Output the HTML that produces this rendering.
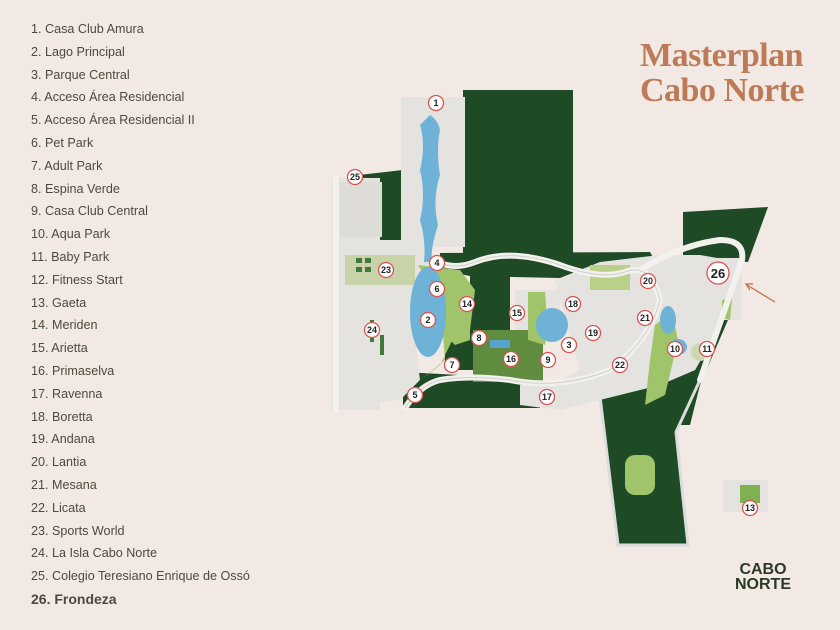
<!DOCTYPE html>
<html><head><meta charset="utf-8"><style>
html,body{margin:0;padding:0;background:#f2e9e4;}
body{width:840px;height:630px;position:relative;overflow:hidden;font-family:"Liberation Sans",sans-serif;}
.list{position:absolute;left:31px;top:18px;color:#4b4a3c;font-size:12.6px;line-height:22.8px;}
.list div{white-space:nowrap}
.title{position:absolute;left:640px;top:38px;color:#bd7a56;font-family:"Liberation Serif",serif;font-weight:bold;font-size:34px;line-height:35px;letter-spacing:-0.5px;}
.logo{position:absolute;left:732px;top:562px;color:#2a3a24;font-weight:bold;font-size:16px;line-height:15px;text-align:center;width:62px;}
svg{position:absolute;left:0;top:0}
</style></head><body>
<div class="list">
<div>1. Casa Club Amura</div><div>2. Lago Principal</div><div>3. Parque Central</div><div>4. Acceso Área Residencial</div><div>5. Acceso Área Residencial II</div><div>6. Pet Park</div><div>7. Adult Park</div><div>8. Espina Verde</div><div>9. Casa Club Central</div><div>10. Aqua Park</div><div>11. Baby Park</div><div>12. Fitness Start</div><div>13. Gaeta</div><div>14. Meriden</div><div>15. Arietta</div><div>16. Primaselva</div><div>17. Ravenna</div><div>18. Boretta</div><div>19. Andana</div><div>20. Lantia</div><div>21. Mesana</div><div>22. Licata</div><div>23. Sports World</div><div>24. La Isla Cabo Norte</div><div>25. Colegio Teresiano Enrique de Ossó</div><div style="font-weight:bold;font-size:14px">26. Frondeza</div>
</div>
<div class="title">Masterplan<br>Cabo Norte</div>
<div class="logo">CABO<br>NORTE</div>
<svg width="840" height="630" viewBox="0 0 840 630">
<g fill="#1f4a26">
<rect x="463" y="90" width="110" height="170"/>
<polygon points="350,176 420,168 430,168 430,245 350,245"/>
<polygon points="440,253 650,252 660,270 560,278 470,276 440,270"/>
<rect x="470" y="276" width="40" height="58"/>
<rect x="445" y="320" width="30" height="50"/>
<polygon points="403,372 515,378 540,385 540,408 403,408"/>
<polygon points="683,212 768,207 748,262 683,258"/>
<polygon points="718,330 740,292 700,385 690,425 640,425 660,385 695,370"/>
<polygon points="598,390 697,385 676,432 688,545 618,545"/>
</g>
<polyline points="598,380 618,545 688,545 676,432 700,380" fill="none" stroke="#dcdcdc" stroke-width="3"/>
<g fill="#e4e3e0">
<rect x="401" y="97" width="64" height="150"/>
<rect x="332" y="178" width="48" height="232"/>
<polygon points="338,240 420,240 430,270 410,300 420,380 400,400 338,405"/>
<rect x="340" y="182" width="42" height="55" fill="#dedcd6"/>
<polygon points="555,280 600,262 660,255 700,255 740,262 718,330 695,370 660,385 600,400 560,410 520,405 520,385 560,380 580,370"/>
<rect x="515" y="290" width="45" height="45"/>
<rect x="723" y="480" width="45" height="32"/>
<rect x="670" y="258" width="72" height="62"/>
</g>
<g fill="#9fc46a">
<polygon points="418,265 460,270 475,290 470,330 455,335 440,365 420,380 445,360 440,300"/>
<polygon points="440,290 470,290 470,340 455,345 440,330"/>
<rect x="473" y="330" width="70" height="52" fill="#5f8c3e"/>
<polygon points="528,292 545,292 548,330 545,345 528,340"/>
<polygon points="655,325 672,312 678,340 665,395 645,405 650,360"/>
<rect x="345" y="255" width="70" height="30" fill="#c8d3a9"/>
<rect x="740" y="485" width="20" height="18" fill="#7fb150"/>
<rect x="625" y="455" width="30" height="40" rx="10" fill="#9fc46a"/>
<rect x="590" y="265" width="40" height="25" fill="#b8d088"/>
<polygon points="722,300 732,298 730,320 722,318" fill="#9fc46a"/>
<ellipse cx="700" cy="352" rx="9" ry="9" fill="#cfd8b0"/>
</g>
<g fill="#6fb2d8">
<path d="M430,115 Q438,120 440,130 Q436,150 440,175 Q432,200 438,225 Q430,250 432,262 L424,262 Q426,240 420,220 Q426,195 420,170 Q426,145 420,125 Z"/>
<ellipse cx="428" cy="312" rx="18" ry="45"/>
<ellipse cx="552" cy="325" rx="16" ry="17"/>
<ellipse cx="668" cy="320" rx="8" ry="14"/>
<ellipse cx="678" cy="347" rx="9" ry="8"/>
<rect x="490" y="340" width="20" height="8" fill="#58a3cc"/>
</g>
<g fill="none" stroke="#f2f1ee" stroke-width="6" stroke-linecap="round">
<path d="M438,262 Q455,270 475,262 Q510,248 560,265 Q600,280 625,272 Q650,262 660,300 Q650,340 610,370 Q560,390 510,380 Q470,375 440,380 Q420,385 405,408"/>
<path d="M640,270 Q680,245 720,240 Q745,240 742,260 L700,380"/>
<path d="M336,178 L336,410"/>
</g>
<g fill="none" stroke="#cfcfcb" stroke-width="1">
<path d="M438,262 Q455,270 475,262 Q510,248 560,265 Q600,280 625,272 Q650,262 660,300 Q650,340 610,370 Q560,390 510,380 Q470,375 440,380 Q420,385 405,408"/>
</g>
<g fill="#3f7a3a"><rect x="356" y="258" width="6" height="5"/><rect x="365" y="258" width="6" height="5"/><rect x="356" y="267" width="6" height="5"/><rect x="365" y="267" width="6" height="5"/><rect x="370" y="320" width="4" height="22"/><rect x="380" y="335" width="4" height="20"/></g>
<line x1="775" y1="302" x2="747" y2="285" stroke="#b8734c" stroke-width="1.3"/>
<polyline points="753,284 746,284 750,290" fill="none" stroke="#b8734c" stroke-width="1.3"/>
<g font-family="Liberation Sans,sans-serif" font-size="9" font-weight="bold" text-anchor="middle" fill="#222">
<g fill="#fff" stroke="#d9534f" stroke-width="1.3">
<circle cx="436" cy="103" r="7.5"/><circle cx="355" cy="177" r="7.5"/><circle cx="386" cy="270" r="7.5"/><circle cx="437" cy="263" r="7.5"/><circle cx="437" cy="289" r="7.5"/><circle cx="467" cy="304" r="7.5"/><circle cx="428" cy="320" r="7.5"/><circle cx="372" cy="330" r="7.5"/><circle cx="479" cy="338" r="7.5"/><circle cx="511" cy="359" r="7.5"/><circle cx="548" cy="360" r="7.5"/><circle cx="569" cy="345" r="7.5"/><circle cx="517" cy="313" r="7.5"/><circle cx="573" cy="304" r="7.5"/><circle cx="593" cy="333" r="7.5"/><circle cx="648" cy="281" r="7.5"/><circle cx="645" cy="318" r="7.5"/><circle cx="620" cy="365" r="7.5"/><circle cx="547" cy="397" r="7.5"/><circle cx="452" cy="365" r="7.5"/><circle cx="415" cy="395" r="7.5"/><circle cx="675" cy="349" r="7.5"/><circle cx="707" cy="349" r="7.5"/><circle cx="718" cy="273" r="11"/><circle cx="750" cy="508" r="7.5"/>
</g>
<text x="436" y="106">1</text><text x="355" y="180">25</text><text x="386" y="273">23</text><text x="437" y="266">4</text><text x="437" y="292">6</text><text x="467" y="307">14</text><text x="428" y="323">2</text><text x="372" y="333">24</text><text x="479" y="341">8</text><text x="511" y="362">16</text><text x="548" y="363">9</text><text x="569" y="348">3</text><text x="517" y="316">15</text><text x="573" y="307">18</text><text x="593" y="336">19</text><text x="648" y="284">20</text><text x="645" y="321">21</text><text x="620" y="368">22</text><text x="547" y="400">17</text><text x="452" y="368">7</text><text x="415" y="398">5</text><text x="675" y="352">10</text><text x="707" y="352">11</text><text x="718" y="278" font-size="13">26</text><text x="750" y="511">13</text>
</g>
</svg>
</body></html>
